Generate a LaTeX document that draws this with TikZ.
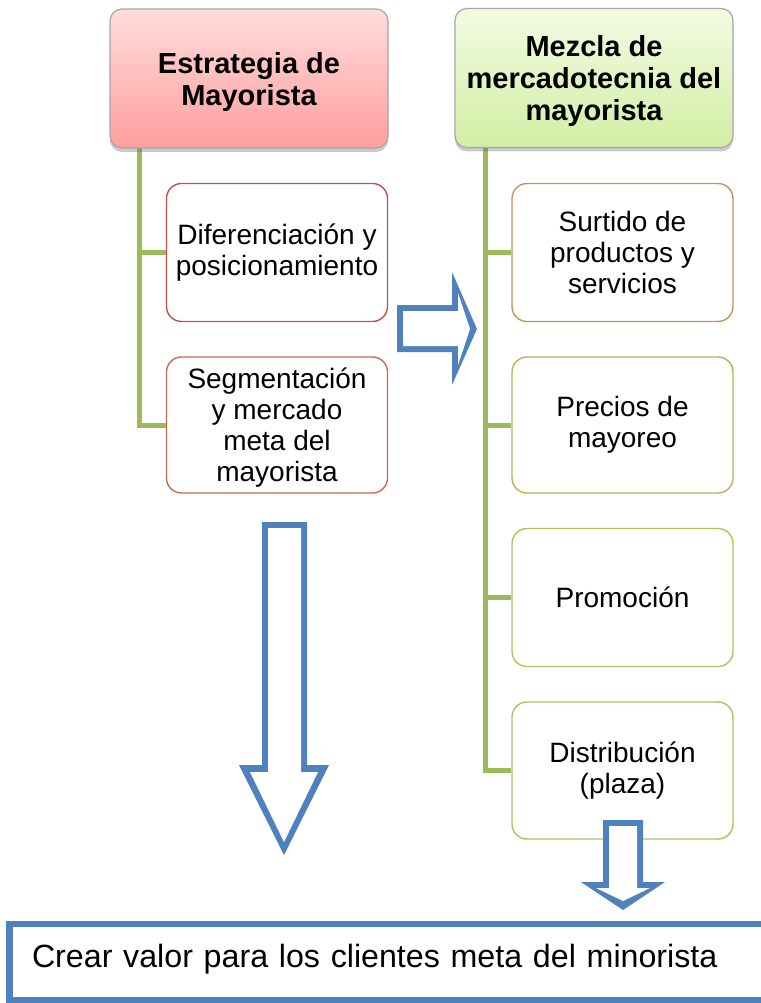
\documentclass[tikz,border=0pt]{standalone}
\usepackage{fontspec}
\setmainfont{Liberation Sans}
\usetikzlibrary{shadows}
\definecolor{trunkgreen}{HTML}{9BBB59}
\definecolor{arrowblue}{HTML}{4F81BD}
\definecolor{pinktop}{HTML}{FFDCDC}
\definecolor{pinkbot}{HTML}{FF9E9E}
\definecolor{greentop}{HTML}{F3FBE3}
\definecolor{greenbot}{HTML}{D2EEA4}
\definecolor{cdif}{HTML}{C0504D}
\definecolor{cseg}{HTML}{C66B4E}
\definecolor{csur}{HTML}{C8915A}
\definecolor{cpre}{HTML}{C2AE58}
\definecolor{cpro}{HTML}{B7C05C}
\definecolor{cdis}{HTML}{A8C462}
\begin{document}
\begin{tikzpicture}[x=1pt,y=-1pt,
  headbox/.style={draw=black!35, line width=1.2pt, rounded corners=12pt,
    minimum width=278pt, minimum height=139pt, inner sep=0pt, align=center,
    text depth=0pt,
    font=\fontsize{29}{32}\selectfont\bfseries,
    drop shadow={shadow xshift=0pt, shadow yshift=-4pt, opacity=0.35, fill=black!60}},
  itembox/.style={draw, line width=1.4pt, rounded corners=15pt, fill=white,
    minimum width=221pt, minimum height=138pt, inner sep=0pt, align=center,
    font=\fontsize{28}{31}\selectfont},
  trunk/.style={draw=trunkgreen, line width=5pt},
  goalbox/.style={draw=arrowblue, line width=6.5pt, anchor=north west, outer sep=0pt,
    inner xsep=22.5pt, inner ysep=20pt, text height=23pt, text depth=13pt,
    text width=740pt, align=left, font=\fontsize{32.2}{36}\selectfont}
]
\useasboundingbox (0,0) rectangle (760,1003);

% green trunks
\coordinate (ltop) at (139.5,140);
\coordinate (rtop) at (485,140);
\node[itembox, draw=cdif] (dif) at (277,252.5) {Diferenciación y\\posicionamiento};
\node[itembox, draw=cseg, minimum height=136pt, text depth=0pt] (seg) at (277,425) {Segmentación\\y mercado\\meta del\\mayorista};
\node[itembox, draw=csur] (sur) at (622.5,252.5) {Surtido de\\productos y\\servicios};
\node[itembox, draw=cpre, minimum height=136pt] (pre) at (622.5,425) {Precios de\\mayoreo};
\node[itembox, draw=cpro] (pro) at (622.5,597.5) {Promoción};
\node[itembox, draw=cdis, minimum height=137pt] (dis) at (622.5,770.5) {Distribución\\(plaza)};

\draw[trunk] (ltop) |- (dif.west);
\draw[trunk] (ltop) |- (seg.west);
\draw[trunk] (rtop) |- (sur.west);
\draw[trunk] (rtop) |- (pre.west);
\draw[trunk] (rtop) |- (pro.west);
\draw[trunk] (rtop) |- (dis.west);

\node[headbox, top color=pinktop, bottom color=pinkbot] (strat) at (249,78.5) {Estrategia de\\Mayorista};
\node[headbox, top color=greentop, bottom color=greenbot] (mix) at (594,78) {Mezcla de\\mercadotecnia del\\mayorista};

% right block arrow
\fill[arrowblue] (397,305) -- (452,305) -- (452,272) -- (477,329) -- (452,385) -- (452,352) -- (397,352) -- cycle;
\fill[white] (403,311) -- (458,311) -- (458,293) -- (470,329) -- (458,365) -- (458,346) -- (403,346) -- cycle;

% big down block arrow
\fill[arrowblue] (262,522) -- (307,522) -- (307,765) -- (329,765) -- (284,855) -- (239,765) -- (262,765) -- cycle;
\fill[white] (268,528) -- (301,528) -- (301,772) -- (318,772) -- (284,842) -- (250,772) -- (268,772) -- cycle;

% small down block arrow
\fill[arrowblue] (603,820) -- (643,820) -- (643,882) -- (665,882) -- (623,910) -- (581,882) -- (603,882) -- cycle;
\fill[white] (609,826) -- (637,826) -- (637,888) -- (650,888) -- (623,901) -- (596,888) -- (609,888) -- cycle;

% goal box
\node[goalbox] (goal) at (9.5,924) {\noindent Crear valor para los clientes meta del minorista};
\end{tikzpicture}
\end{document}
